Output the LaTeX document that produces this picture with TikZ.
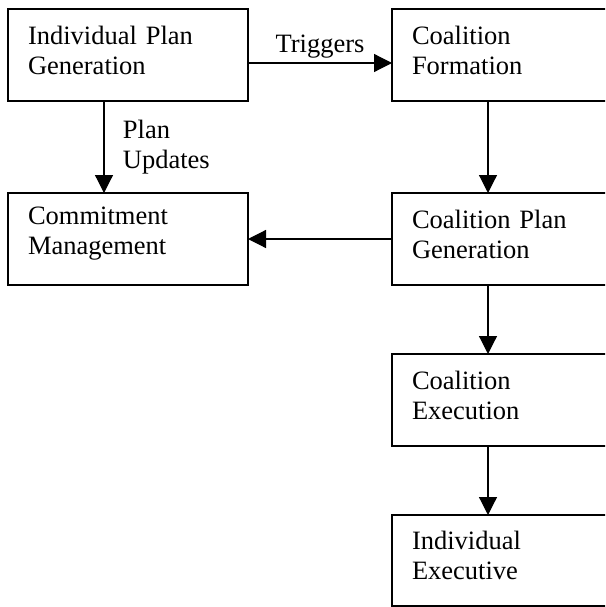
\documentclass[tikz,border=0pt]{standalone}
\usepackage{fontspec}
\setmainfont{Liberation Serif}
\usetikzlibrary{arrows.meta}
\begin{document}
\begin{tikzpicture}[x=1pt, y=-1pt,
    font=\fontsize{26.5}{30}\selectfont,
    box/.style={draw, line width=1.2pt, anchor=north west, text width=200pt, align=left,
      inner xsep=20pt, inner ysep=0pt, minimum height=92pt, outer sep=0pt,
      execute at end node=\vspace{10pt}},
    arr/.style={line width=1.2pt, -{Triangle[length=18pt,width=18pt]}}]
      % page and clipping of the right column
      \useasboundingbox (0,0) rectangle (605,607);
      \clip (0,0) rectangle (605,607);
      \node[box] (ipg) at (8,9) {Individual Plan\\Generation};
      \node[box] (cf) at (392,9) {Coalition\\Formation};
      \node[box] (cm) at (8,193) {Commitment\\Management};
      \node[box] (cpg) at (392,193) {Coalition Plan\\Generation};
      \node[box] (ce) at (392,354) {Coalition\\Execution};
      \node[box, minimum height=91pt] (ie) at (392,515) {Individual\\Executive};
      % connectors
      \draw[arr] ([yshift=-54pt]ipg.north east) -- node[above=1pt] {Triggers} ([yshift=-54pt]cf.north west);
      \draw[arr] ([xshift=96pt]ipg.south west) -- node[right=15pt, align=left] {Plan\\Updates} ([xshift=96pt]cm.north west);
      \draw[arr] ([xshift=96pt]cf.south west) -- ([xshift=96pt]cpg.north west);
      \draw[arr] (cpg.west) -- (cm.east);
      \draw[arr] ([xshift=96pt]cpg.south west) -- ([xshift=96pt]ce.north west);
      \draw[arr] ([xshift=96pt]ce.south west) -- ([xshift=96pt]ie.north west);
    \end{tikzpicture}
\end{document}
